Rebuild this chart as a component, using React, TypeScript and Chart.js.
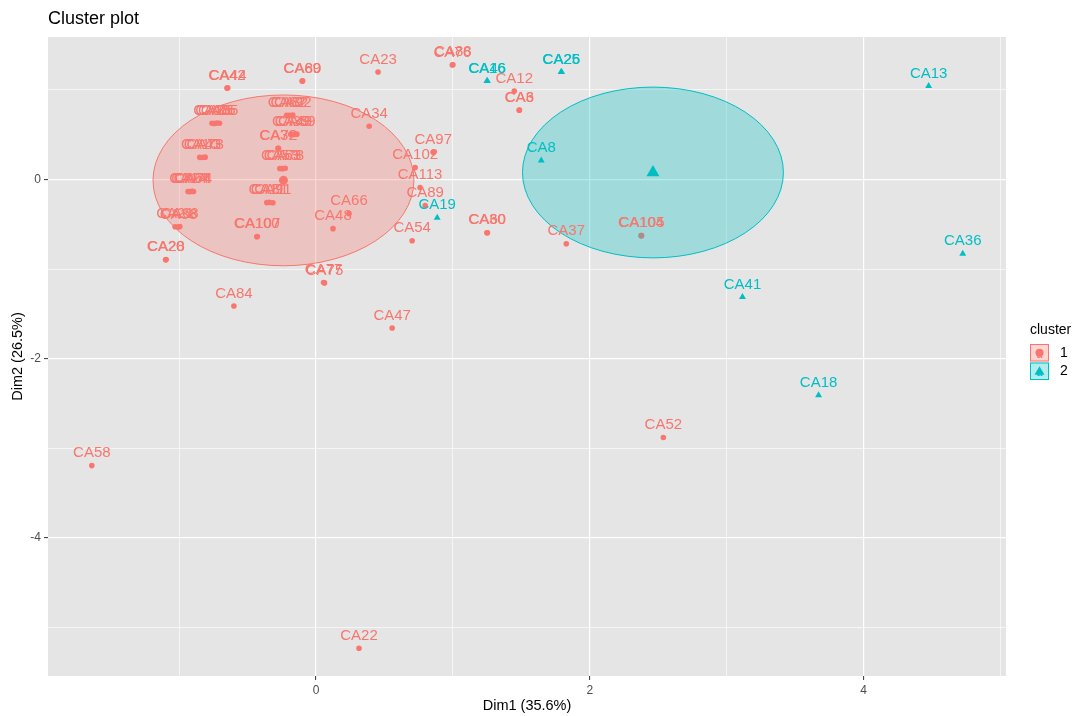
import React, { useEffect, useRef } from "react";
import { Chart, registerables } from "chart.js";

Chart.register(...registerables);

const RED = "#F8766D";
const TEAL = "#00BFC4";
const RED_FILL = "rgba(248,118,109,0.30)";
const TEAL_FILL = "rgba(0,191,196,0.30)";
const FONT = '"Liberation Sans", Arial, Helvetica, sans-serif';

// ---- data ----
const cluster1Labels = [
  "CA42", "CA44", "CA69", "CA80", "CA23", "CA76", "CA88", "CA12", "CA3", "CA6",
  "CA34", "CA97", "CA102", "CA113", "CA89", "CA54", "CA30", "CA60", "CA37", "CA104",
  "CA105", "CA52", "CA47", "CA84", "CA58", "CA22", "CA75", "CA77", "CA66", "CA48",
  "CA100", "CA107", "CA20", "CA28", "CA21", "CA38", "CA68", "CA14", "CA24", "CA64",
  "CA74", "CA10", "CA43", "CA73", "CA15", "CA35", "CA65", "CA85", "CA62", "CA82",
  "CA92", "CA39", "CA49", "CA59", "CA32", "CA72", "CA53", "CA63", "CA78", "CA11",
  "CA81", "CA91",
];
const cluster1X = [
  -0.651, -0.645, -0.102, -0.098, 0.453, 0.995, 1.0, 1.448, 1.484, 1.486,
  0.388, 0.856, 0.724, 0.76, 0.797, 0.702, 1.248, 1.252, 1.828, 2.374,
  2.378, 2.537, 0.556, -0.6, -1.638, 0.314, 0.062, 0.055, 0.241, 0.124,
  -0.433, -0.429, -1.099, -1.095, -1.03, -1.005, -0.995, -0.935, -0.92, -0.905,
  -0.895, -0.85, -0.83, -0.81, -0.76, -0.745, -0.725, -0.705, -0.215, -0.195,
  -0.17, -0.185, -0.165, -0.14, -0.278, -0.274, -0.265, -0.245, -0.225, -0.36,
  -0.34, -0.315,
];
const cluster1Y = [
  1.02, 1.022, 1.098, 1.1, 1.199, 1.277, 1.28, 0.986, 0.773, 0.775,
  0.594, 0.303, 0.134, -0.09, -0.291, -0.683, -0.594, -0.594, -0.717, -0.627,
  -0.627, -2.88, -1.658, -1.412, -3.193, -5.232, -1.154, -1.15, -0.381, -0.549,
  -0.639, -0.637, -0.896, -0.894, -0.527, -0.529, -0.525, -0.134, -0.136, -0.132,
  -0.134, 0.247, 0.245, 0.249, 0.627, 0.625, 0.629, 0.627, 0.717, 0.715,
  0.719, 0.504, 0.502, 0.506, 0.347, 0.349, 0.123, 0.121, 0.125, -0.258,
  -0.256, -0.26,
];
const cluster2Labels = ["CA13", "CA36", "CA41", "CA18", "CA8", "CA19", "CA16", "CA46", "CA25", "CA26"];
const cluster2X = [4.475, 4.724, 3.115, 3.671, 1.645, 0.885, 1.248, 1.252, 1.79, 1.794];
const cluster2Y = [1.042, -0.829, -1.311, -2.409, 0.213, -0.426, 1.098, 1.098, 1.199, 1.199];

const clusterNames = ["1", "2"];
const centroidX = [-0.238, 2.461];
const centroidY = [-0.01, 0.078];
const ellipseRadius = [0.953, 0.953];

const xTicks = [-1, 0, 1, 2, 3, 4, 5];
const xTickLabels = ["", "0", "", "2", "", "4", ""];
const yTicks = [-5, -4, -3, -2, -1, 0, 1];
const yTickLabels = ["", "-4", "", "-2", "", "0", ""];
const xRange = [-1.958, 5.04];
const yRange = [-5.541, 1.59];

const toPts = (xs: number[], ys: number[]) => xs.map((x, i) => ({ x, y: ys[i] }));

export default function App() {
  const ref = useRef<HTMLCanvasElement | null>(null);

  useEffect(() => {
    if (!ref.current) return;

    const bgPlugin = {
      id: "panelBg",
      beforeDraw(chart: any) {
        const { ctx, chartArea: a } = chart;
        ctx.save();
        ctx.fillStyle = "#FFFFFF";
        ctx.fillRect(0, 0, chart.width, chart.height);
        ctx.fillStyle = "#E5E5E5";
        ctx.fillRect(a.left, a.top, a.right - a.left, a.bottom - a.top);
        ctx.restore();
      },
    };

    const ellipsePlugin = {
      id: "ellipses",
      afterDatasetDraw(chart: any, args: any) {
        if (args.index !== 2) return;
        const { ctx, chartArea: a } = chart;
        const xs = chart.scales.x;
        const ys = chart.scales.y;
        ctx.save();
        ctx.beginPath();
        ctx.rect(a.left, a.top, a.right - a.left, a.bottom - a.top);
        ctx.clip();
        [0, 1].forEach((k) => {
          const cx = xs.getPixelForValue(centroidX[k]);
          const cy = ys.getPixelForValue(centroidY[k]);
          const rx = Math.abs(xs.getPixelForValue(centroidX[k] + ellipseRadius[k]) - cx);
          const ry = Math.abs(ys.getPixelForValue(centroidY[k] + ellipseRadius[k]) - cy);
          ctx.beginPath();
          ctx.ellipse(cx, cy, rx, ry, 0, 0, Math.PI * 2);
          ctx.fillStyle = k === 0 ? RED_FILL : TEAL_FILL;
          ctx.fill();
          ctx.lineWidth = 1;
          ctx.strokeStyle = k === 0 ? RED : TEAL;
          ctx.stroke();
        });
        ctx.restore();
      },
    };

    const labelPlugin = {
      id: "pointLabels",
      afterDatasetsDraw(chart: any) {
        const { ctx, chartArea: a } = chart;
        const xs = chart.scales.x;
        const ys = chart.scales.y;
        ctx.save();
        ctx.beginPath();
        ctx.rect(a.left, a.top, a.right - a.left, a.bottom - a.top);
        ctx.clip();
        ctx.font = `15px ${FONT}`;
        ctx.textAlign = "center";
        ctx.textBaseline = "middle";
        const drawSet = (labels: string[], X: number[], Y: number[], color: string) => {
          ctx.fillStyle = color;
          labels.forEach((t, i) => {
            const px = xs.getPixelForValue(X[i]);
            const py = ys.getPixelForValue(Y[i]);
            ctx.fillText(t, px, py - 12.5);
          });
        };
        drawSet(cluster1Labels, cluster1X, cluster1Y, RED);
        drawSet(cluster2Labels, cluster2X, cluster2Y, TEAL);
        ctx.restore();
      },
    };

    const decorPlugin = {
      id: "decor",
      afterDraw(chart: any) {
        const { ctx, chartArea: a } = chart;
        ctx.save();
        // title
        ctx.fillStyle = "#000000";
        ctx.font = `18px ${FONT}`;
        ctx.textAlign = "left";
        ctx.textBaseline = "middle";
        ctx.fillText("Cluster plot", 48, 19);
        // x axis title
        ctx.font = `14.5px ${FONT}`;
        ctx.textAlign = "center";
        ctx.fillText("Dim1 (35.6%)", (a.left + a.right) / 2, 706);
        // y axis title
        ctx.save();
        ctx.translate(18, (a.top + a.bottom) / 2);
        ctx.rotate(-Math.PI / 2);
        ctx.fillText("Dim2 (26.5%)", 0, 0);
        ctx.restore();
        // legend
        ctx.textAlign = "left";
        ctx.font = `14px ${FONT}`;
        ctx.fillText("cluster", 1030, 330);
        const keys = [
          { y: 344, fill: RED_FILL, col: RED, shape: "circle" },
          { y: 362.5, fill: TEAL_FILL, col: TEAL, shape: "triangle" },
        ];
        keys.forEach((k, i) => {
          const x0 = 1030, w = 19, h = 17.5;
          ctx.fillStyle = k.fill;
          ctx.fillRect(x0, k.y, w, h);
          ctx.strokeStyle = k.col;
          ctx.lineWidth = 1;
          ctx.strokeRect(x0 + 0.5, k.y + 0.5, w - 1, h - 1);
          const cx = x0 + w / 2, cy = k.y + h / 2;
          ctx.fillStyle = k.col;
          ctx.font = `bold 10px ${FONT}`;
          ctx.textAlign = "center";
          ctx.fillText("a", cx, cy + 2);
          ctx.beginPath();
          if (k.shape === "circle") {
            ctx.arc(cx, cy, 4, 0, Math.PI * 2);
          } else {
            ctx.moveTo(cx, cy - 5);
            ctx.lineTo(cx + 5, cy + 3.5);
            ctx.lineTo(cx - 5, cy + 3.5);
            ctx.closePath();
          }
          ctx.fill();
          ctx.fillStyle = "#000000";
          ctx.font = `14px ${FONT}`;
          ctx.textAlign = "left";
          ctx.fillText(clusterNames[i], 1060, cy);
        });
        ctx.restore();
      },
    };

    const isMajor = (v: number | undefined, labels: string[], ticks: number[]) => {
      if (v === undefined) return false;
      const i = ticks.indexOf(v);
      return i >= 0 && labels[i] !== "";
    };

    const chart = new Chart(ref.current, {
      type: "scatter",
      data: {
        datasets: [
          {
            label: "centroid1",
            data: [{ x: centroidX[0], y: centroidY[0] }],
            pointStyle: "circle",
            pointRadius: 4.5,
            backgroundColor: RED,
            borderColor: RED,
            borderWidth: 0,
          },
          {
            label: "centroid2",
            data: [{ x: centroidX[1], y: centroidY[1] }],
            pointStyle: "triangle",
            pointRadius: 7.5,
            backgroundColor: TEAL,
            borderColor: TEAL,
            borderWidth: 0,
          },
          {
            label: "1",
            data: toPts(cluster1X, cluster1Y),
            pointStyle: "circle",
            pointRadius: 2.8,
            backgroundColor: RED,
            borderColor: RED,
            borderWidth: 0,
          },
          {
            label: "2",
            data: toPts(cluster2X, cluster2Y),
            pointStyle: "triangle",
            pointRadius: 4,
            backgroundColor: TEAL,
            borderColor: TEAL,
            borderWidth: 0,
          },
        ],
      },
      options: {
        animation: false,
        responsive: false,
        devicePixelRatio: 1,
        events: [],
        layout: { padding: { top: 37, right: 70, bottom: 0, left: 0 } },
        plugins: {
          legend: { display: false },
          tooltip: { enabled: false },
          title: { display: false },
        },
        scales: {
          x: {
            type: "linear",
            min: xRange[0],
            max: xRange[1],
            afterBuildTicks: (s: any) => {
              s.ticks = xTicks.map((v) => ({ value: v }));
            },
            afterFit: (s: any) => {
              s.height = 40;
            },
            ticks: {
              autoSkip: false,
              maxRotation: 0,
              padding: 3,
              color: "#4D4D4D",
              font: { size: 12, family: FONT },
              callback: (v: any) => {
                const i = xTicks.indexOf(Number(v));
                return i >= 0 ? xTickLabels[i] : "";
              },
            },
            grid: {
              color: "#FFFFFF",
              lineWidth: (c: any) => (isMajor(c.tick?.value, xTickLabels, xTicks) ? 1.2 : 0.6),
              drawTicks: true,
              tickLength: 4,
              tickWidth: 1,
              tickColor: (c: any) =>
                isMajor(c.tick?.value, xTickLabels, xTicks) ? "#333333" : "rgba(0,0,0,0)",
            },
            border: { display: false },
          },
          y: {
            type: "linear",
            min: yRange[0],
            max: yRange[1],
            afterBuildTicks: (s: any) => {
              s.ticks = yTicks.map((v) => ({ value: v }));
            },
            afterFit: (s: any) => {
              s.width = 48;
            },
            ticks: {
              autoSkip: false,
              padding: 3,
              color: "#4D4D4D",
              font: { size: 12, family: FONT },
              callback: (v: any) => {
                const i = yTicks.indexOf(Number(v));
                return i >= 0 ? yTickLabels[i] : "";
              },
            },
            grid: {
              color: "#FFFFFF",
              lineWidth: (c: any) => (isMajor(c.tick?.value, yTickLabels, yTicks) ? 1.2 : 0.6),
              drawTicks: true,
              tickLength: 4,
              tickWidth: 1,
              tickColor: (c: any) =>
                isMajor(c.tick?.value, yTickLabels, yTicks) ? "#333333" : "rgba(0,0,0,0)",
            },
            border: { display: false },
          },
        },
      } as any,
      plugins: [bgPlugin, ellipsePlugin, labelPlugin, decorPlugin],
    });

    return () => chart.destroy();
  }, []);

  return (
    <div style={{ position: "absolute", left: 0, top: 0, width: 1076, height: 716, background: "#FFFFFF" }}>
      <canvas ref={ref} width={1076} height={716} style={{ display: "block", width: 1076, height: 716 }} />
    </div>
  );
}
